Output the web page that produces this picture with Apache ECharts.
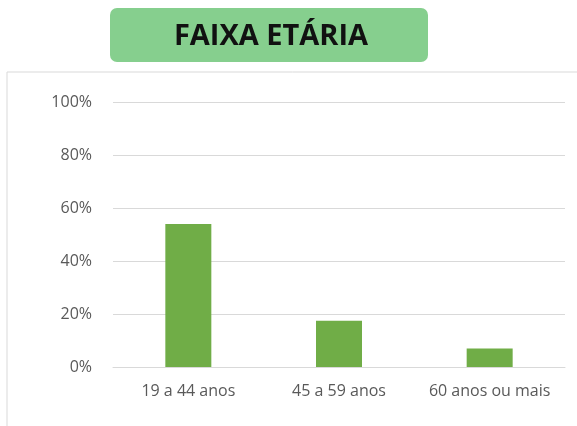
<!DOCTYPE html>
<html><head><meta charset="utf-8">
<script src="https://cdn.jsdelivr.net/npm/echarts@6/dist/echarts.min.js"></script>
<style>html,body{margin:0;padding:0;background:#fff}#c{width:577px;height:426px}</style>
</head><body><div id="c"></div>
<script>
const categories = ["19 a 44 anos", "45 a 59 anos", "60 anos ou mais"];
const values = [54, 17.5, 7];
const yTicks = [0, 20, 40, 60, 80, 100];
const titleText = "FAIXA ETÁRIA";

const chart = echarts.init(document.getElementById('c'), null, {renderer: 'canvas'});
chart.setOption({
  animation: false,
  backgroundColor: '#ffffff',
  graphic: [
    {type: 'rect', shape: {x: 7, y: 72, width: 600, height: 400}, style: {fill: '#fff', stroke: '#d9d9d9', lineWidth: 1}, z: -10},
    {type: 'rect', shape: {x: 110, y: 8, width: 318, height: 54, r: 7}, style: {fill: '#86cf8e'}},
    {type: 'text', x: 271, y: 37, style: {text: titleText, fill: '#111', font: 'bold 29px "Open Sans"', align: 'center', verticalAlign: 'middle'}}
  ],
  grid: {left: 113, right: 12, top: 102, bottom: 59, containLabel: false},
  xAxis: {
    type: 'category', data: categories,
    axisLine: {show: true, lineStyle: {color: '#d9d9d9'}},
    axisTick: {show: false},
    axisLabel: {color: '#595959', fontSize: 16, fontFamily: 'Open Sans', margin: 16, interval: 0, hideOverlap: false}
  },
  yAxis: {
    type: 'value', min: 0, max: 100, interval: 20,
    axisLine: {show: false}, axisTick: {show: false},
    splitLine: {lineStyle: {color: '#d9d9d9'}},
    axisLabel: {color: '#595959', fontSize: 16, fontFamily: 'Open Sans', margin: 21,
      formatter: v => yTicks.includes(v) ? v + '%' : ''}
  },
  series: [{type: 'bar', data: values, barWidth: 46, itemStyle: {color: '#70ad47'}}]
});
</script></body></html>
